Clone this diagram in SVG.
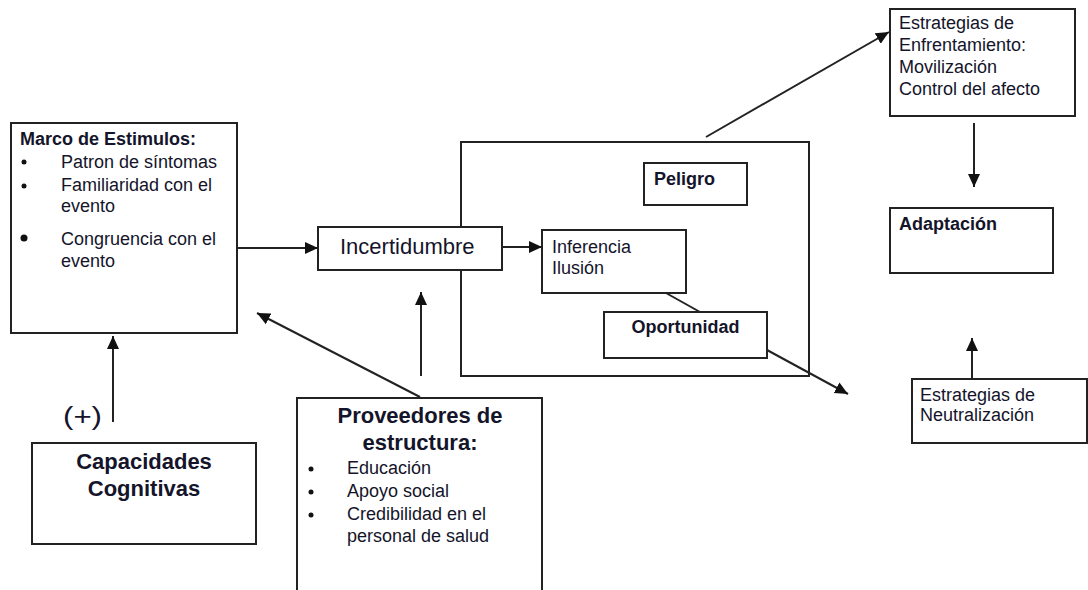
<svg xmlns="http://www.w3.org/2000/svg" width="1088" height="590" viewBox="0 0 1088 590">
<style>
  .box{fill:#fff;stroke:#222;stroke-width:2}
  .ln{fill:none;stroke:#222;stroke-width:2}
  .arr{fill:none;stroke:#222;stroke-width:2;marker-end:url(#ah)}
  text{font-family:"Liberation Sans",Arial,sans-serif;fill:#14142a}
  .t{font-size:18px}
  .b{font-size:18px;font-weight:bold}
  .big{font-size:22px;font-weight:bold}
  .dot{fill:#111}
</style>
<defs>
  <marker id="ah" markerUnits="userSpaceOnUse" markerWidth="14" markerHeight="14" refX="13" refY="7" orient="auto">
    <path d="M0,1 L13,7 L0,13 z" fill="#111"/>
  </marker>
</defs>
<rect width="1088" height="590" fill="#fff"/>

<g id="contexto">
  <rect class="box" x="461" y="142" width="348" height="234"/>
</g>

<g id="marco">
  <rect class="box" x="11" y="123" width="226" height="210"/>
  <text class="b" x="20" y="145">Marco de Estimulos:</text>
  <circle class="dot" cx="24" cy="162" r="2.5"/>
  <circle class="dot" cx="24" cy="186" r="2.5"/>
  <circle class="dot" cx="24" cy="238" r="3.5"/>
  <text class="t" x="61" y="168">Patron de síntomas</text>
  <text class="t" x="61" y="191">Familiaridad con el</text>
  <text class="t" x="61" y="212">evento</text>
  <text class="t" x="61" y="245">Congruencia con el</text>
  <text class="t" x="61" y="267">evento</text>
</g>

<g id="capacidades">
  <rect class="box" x="32" y="443" width="224" height="101"/>
  <text class="big" x="144" y="469" text-anchor="middle">Capacidades</text>
  <text class="big" x="144" y="496" text-anchor="middle">Cognitivas</text>
</g>

<g id="proveedores">
  <rect class="box" x="297" y="398" width="245" height="200"/>
  <text class="big" x="420" y="423" text-anchor="middle">Proveedores de</text>
  <text class="big" x="420" y="450" text-anchor="middle">estructura:</text>
  <circle class="dot" cx="311" cy="469" r="2.5"/>
  <circle class="dot" cx="311" cy="492" r="2.5"/>
  <circle class="dot" cx="311" cy="515" r="2.5"/>
  <text class="t" x="347" y="474">Educación</text>
  <text class="t" x="347" y="497">Apoyo social</text>
  <text class="t" x="347" y="520">Credibilidad en el</text>
  <text class="t" x="347" y="542">personal de salud</text>
</g>

<g id="incertidumbre">
  <rect class="box" x="318" y="227" width="184" height="43"/>
  <text x="340" y="254" style="font-size:22px">Incertidumbre</text>
</g>

<g id="inferencia">
  <rect class="box" x="542" y="230" width="144" height="63"/>
  <text class="t" x="552" y="253">Inferencia</text>
  <text class="t" x="552" y="274">Ilusión</text>
</g>

<g id="peligro">
  <rect class="box" x="644" y="163" width="103" height="42"/>
  <text class="b" x="654" y="185">Peligro</text>
</g>

<g id="oportunidad">
  <rect class="box" x="604" y="312" width="163" height="46"/>
  <text class="b" x="685.5" y="333" text-anchor="middle">Oportunidad</text>
</g>

<g id="enfrentamiento">
  <rect class="box" x="890" y="9" width="185" height="107"/>
  <text class="t" x="899" y="29">Estrategias de</text>
  <text class="t" x="899" y="51">Enfrentamiento:</text>
  <text class="t" x="899" y="73">Movilización</text>
  <text class="t" x="899" y="95">Control del afecto</text>
</g>

<g id="adaptacion">
  <rect class="box" x="890" y="208" width="163" height="65"/>
  <text class="b" x="899" y="230">Adaptación</text>
</g>

<g id="neutralizacion">
  <rect class="box" x="912" y="379" width="175" height="64"/>
  <text class="t" x="920" y="401">Estrategias de</text>
  <text class="t" x="920" y="421">Neutralización</text>
</g>

<g id="signo">
  <text x="63" y="425" style="font-size:26px" textLength="39" lengthAdjust="spacingAndGlyphs">(+)</text>
</g>

<g id="connectors">
  <line class="arr" x1="237" y1="248" x2="318" y2="248"/>
  <line class="arr" x1="502" y1="247" x2="542" y2="247"/>
  <line class="arr" x1="113" y1="422" x2="113" y2="336"/>
  <line class="arr" x1="421" y1="376" x2="421" y2="292"/>
  <line class="arr" x1="420" y1="397" x2="257" y2="313"/>
  <line class="arr" x1="706" y1="137" x2="889" y2="32"/>
  <line class="arr" x1="974" y1="123" x2="974" y2="187"/>
  <line class="arr" x1="972" y1="379" x2="972" y2="338"/>
  <line class="ln" x1="666" y1="293" x2="700" y2="312"/>
  <line class="arr" x1="767" y1="350" x2="848" y2="394"/>
</g>
</svg>
